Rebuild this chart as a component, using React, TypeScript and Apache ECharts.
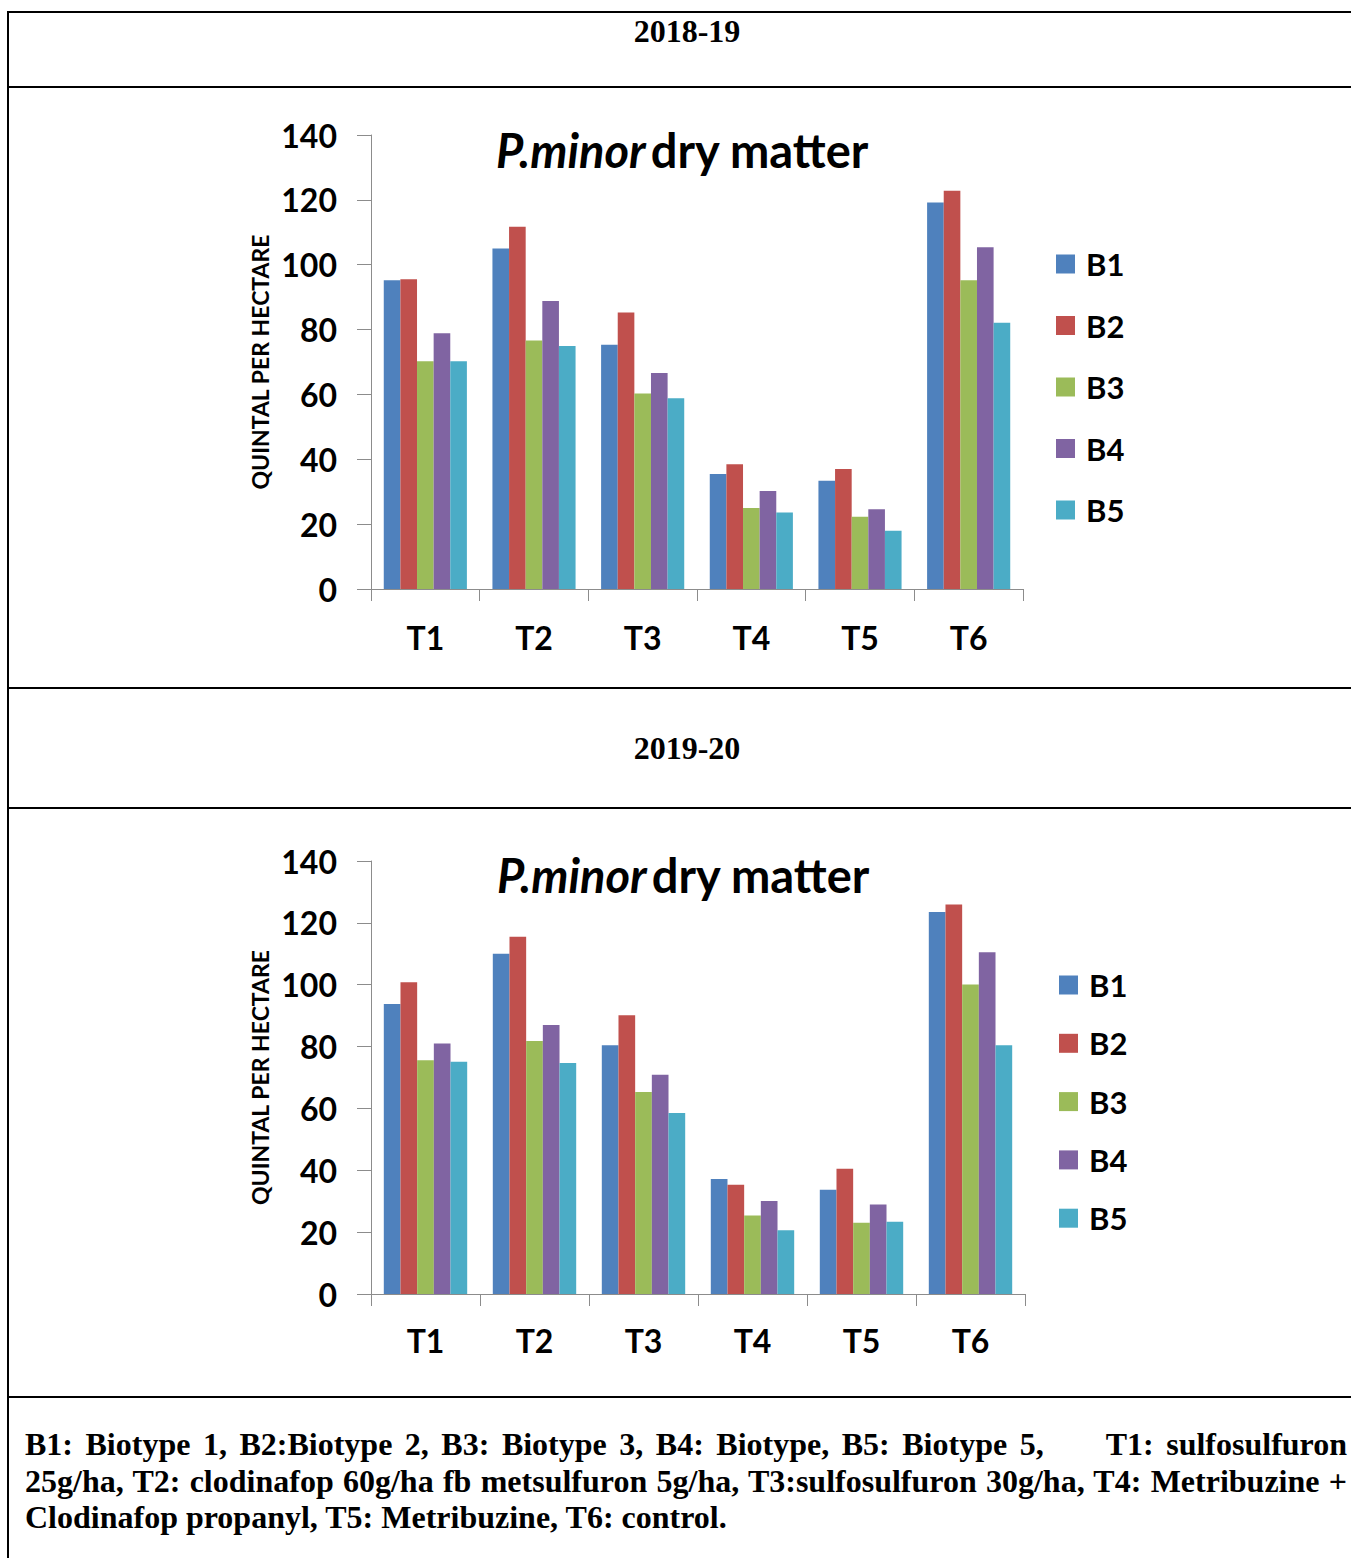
import React, { useEffect, useRef } from "react";
import * as echarts from "echarts";

// Treatments on the x axis, biotypes as series
const treatments = ["T1", "T2", "T3", "T4", "T5", "T6"];
const biotypes = ["B1", "B2", "B3", "B4", "B5"];
const biotypeColors = ["#4F81BD", "#C0504D", "#9BBB59", "#8064A2", "#4BACC6"];

// Y axis scale (quintal per hectare)
const yMin = 0;
const yMax = 140;
const yStep = 20;

// 2018-19 dry matter, one array per biotype over T1..T6
const b1Season1 = [95.2, 105.0, 75.3, 35.5, 33.4, 119.2];
const b2Season1 = [95.5, 111.7, 85.3, 38.5, 37.0, 122.8];
const b3Season1 = [70.2, 76.6, 60.3, 25.0, 22.3, 95.2];
const b4Season1 = [78.9, 88.8, 66.6, 30.2, 24.6, 105.4];
const b5Season1 = [70.2, 74.9, 58.8, 23.6, 18.0, 82.1];

// 2019-20 dry matter
const b1Season2 = [93.8, 110.0, 80.4, 37.2, 33.7, 123.5];
const b2Season2 = [100.8, 115.5, 90.1, 35.3, 40.5, 125.9];
const b3Season2 = [75.6, 81.8, 65.3, 25.4, 23.0, 100.1];
const b4Season2 = [81.0, 87.0, 70.9, 30.1, 28.9, 110.5];
const b5Season2 = [75.1, 74.7, 58.5, 20.6, 23.4, 80.4];

const season1 = [b1Season1, b2Season1, b3Season1, b4Season1, b5Season1];
const season2 = [b1Season2, b2Season2, b3Season2, b4Season2, b5Season2];

const seasonLabels = ["2018-19", "2019-20"];
const chartTitleItalic = "P.minor";
const chartTitleRest = "dry matter";
const yAxisTitle = "QUINTAL PER HECTARE";

const footLines = [
  "B1: Biotype 1, B2:Biotype 2, B3: Biotype 3, B4: Biotype, B5: Biotype 5,\u00a0\u00a0\u00a0\u00a0 T1: sulfosulfuron",
  "25g/ha, T2: clodinafop 60g/ha fb metsulfuron 5g/ha, T3:sulfosulfuron 30g/ha, T4: Metribuzine +",
  "Clodinafop propanyl, T5: Metribuzine, T6: control.",
];

const SANS = "Lato, 'Open Sans', sans-serif";
const SERIF = "'Liberation Serif', 'Times New Roman', serif";
const AXIS_GREY = "#8c8c8c";

type Panel = {
  grid: { left: number; top: number; width: number; height: number };
  titleLeft: number;
  titleTop: number;
  legendLeft: number;
  legendTop: number;
  legendGap: number;
  xLabelMargin: number;
};

const panels: Panel[] = [
  {
    grid: { left: 371, top: 135, width: 652, height: 454 },
    titleLeft: 496,
    titleTop: 126,
    legendLeft: 1056,
    legendTop: 248.5,
    legendGap: 30.5,
    xLabelMargin: 32,
  },
  {
    grid: { left: 371, top: 861, width: 654, height: 433 },
    titleLeft: 497,
    titleTop: 851,
    legendLeft: 1059,
    legendTop: 969.5,
    legendGap: 27.3,
    xLabelMargin: 30,
  },
];

function buildOption() {
  const grids = panels.map((p) => ({ ...p.grid, containLabel: false }));
  const xAxes = panels.map((p, i) => ({
    type: "category",
    gridIndex: i,
    data: treatments,
    axisLine: { show: true, lineStyle: { color: AXIS_GREY, width: 1 } },
    axisTick: { show: true, length: 12, lineStyle: { color: AXIS_GREY, width: 1 } },
    axisLabel: {
      margin: p.xLabelMargin,
      color: "#000",
      fontFamily: SANS,
      fontWeight: "bold",
      fontSize: 32,
    },
  }));
  const yAxes = panels.map((_, i) => ({
    type: "value",
    gridIndex: i,
    min: yMin,
    max: yMax,
    interval: yStep,
    name: yAxisTitle,
    nameLocation: "middle",
    nameRotate: 90,
    nameGap: 100,
    nameTextStyle: {
      color: "#000",
      fontFamily: SANS,
      fontWeight: "bold",
      fontSize: 23,
    },
    axisLine: { show: true, lineStyle: { color: AXIS_GREY, width: 1 } },
    axisTick: { show: true, length: 14, lineStyle: { color: AXIS_GREY, width: 1 } },
    splitLine: { show: false },
    axisLabel: {
      margin: 34,
      color: "#000",
      fontFamily: SANS,
      fontWeight: "bold",
      fontSize: 32,
    },
  }));
  const titles = panels.map((p) => ({
    text: `{i|${chartTitleItalic}} {n|${chartTitleRest}}`,
    left: p.titleLeft,
    top: p.titleTop,
    padding: 0,
    textStyle: {
      rich: {
        i: {
          fontFamily: SANS,
          fontWeight: "bold",
          fontStyle: "italic",
          fontSize: 47,
          color: "#000",
        },
        n: {
          fontFamily: SANS,
          fontWeight: "bold",
          fontSize: 47,
          color: "#000",
        },
      },
    },
  }));
  const legends = panels.map((p) => ({
    data: biotypes,
    orient: "vertical",
    left: p.legendLeft,
    top: p.legendTop,
    padding: 0,
    itemWidth: 19,
    itemHeight: 19,
    itemGap: p.legendGap,
    icon: "rect",
    selectedMode: false,
    textStyle: {
      color: "#000",
      fontFamily: SANS,
      fontWeight: "bold",
      fontSize: 31,
      padding: [0, 0, 0, 6],
    },
  }));
  const series: any[] = [];
  [season1, season2].forEach((season, gi) => {
    season.forEach((values, bi) => {
      series.push({
        type: "bar",
        name: biotypes[bi],
        xAxisIndex: gi,
        yAxisIndex: gi,
        data: values,
        barGap: "0%",
        barCategoryGap: "23.5%",
        itemStyle: { color: biotypeColors[bi] },
      });
    });
  });
  return {
    animation: false,
    backgroundColor: "transparent",
    title: titles,
    legend: legends,
    grid: grids,
    xAxis: xAxes,
    yAxis: yAxes,
    series,
  };
}

function Rule({ left, top, width, height }: { left: number; top: number; width: number; height: number }) {
  return (
    <div
      style={{ position: "absolute", left, top, width, height, background: "#000", zIndex: 2 }}
    />
  );
}

export default function App() {
  const ref = useRef<HTMLDivElement>(null);

  useEffect(() => {
    if (!ref.current) return;
    const chart = echarts.init(ref.current, undefined, { renderer: "svg" });
    chart.setOption(buildOption() as any);
    return () => chart.dispose();
  }, []);

  const headerStyle = (top: number): React.CSSProperties => ({
    position: "absolute",
    left: 587,
    width: 200,
    top,
    textAlign: "center",
    fontFamily: SERIF,
    fontWeight: "bold",
    fontSize: 32,
    lineHeight: "37px",
    color: "#000",
    zIndex: 3,
  });

  return (
    <div
      style={{
        position: "absolute",
        left: 0,
        top: 0,
        width: 1351,
        height: 1558,
        overflow: "hidden",
        background: "#fff",
      }}
    >
      <div ref={ref} style={{ position: "absolute", left: 0, top: 0, width: 1351, height: 1558 }} />

      {/* table rules */}
      <Rule left={7} top={11} width={1344} height={2} />
      <Rule left={7} top={11} width={2} height={1547} />
      <Rule left={7} top={86} width={1344} height={2} />
      <Rule left={7} top={687} width={1344} height={2} />
      <Rule left={7} top={807} width={1344} height={2} />
      <Rule left={7} top={1396} width={1344} height={2} />

      <div style={headerStyle(13)}>{seasonLabels[0]}</div>
      <div style={headerStyle(730)}>{seasonLabels[1]}</div>

      <div
        style={{
          position: "absolute",
          left: 25,
          top: 1426,
          width: 1322,
          fontFamily: SERIF,
          fontWeight: "bold",
          fontSize: 32,
          lineHeight: "36.5px",
          color: "#000",
          zIndex: 3,
        }}
      >
        {footLines.map((line, i) => (
          <div
            key={i}
            style={{
              whiteSpace: "nowrap",
              textAlign: i < footLines.length - 1 ? "justify" : "left",
              textAlignLast: i < footLines.length - 1 ? "justify" : "left",
            }}
          >
            {line}
          </div>
        ))}
      </div>
    </div>
  );
}
